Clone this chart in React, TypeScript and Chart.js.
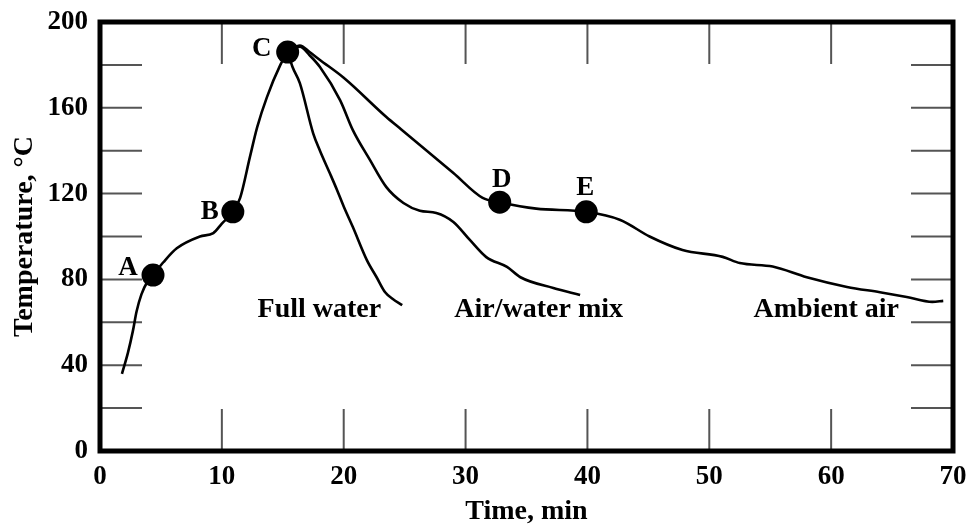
import React, { useEffect, useRef } from 'react';
import { Chart, registerables } from 'chart.js';

Chart.register(...registerables);

// Heating phase (start -> A -> B -> C)
const heatTime = [1.8, 2.3, 2.7, 3.0, 3.4, 3.9, 4.35, 5.2, 6.3, 8.2, 9.3, 10.0, 10.9, 11.5, 12.3, 12.9, 13.7, 14.8, 15.4];
const heatTemp = [36, 46, 56, 65, 73, 79, 82, 88, 94.5, 100, 101.6, 106, 111.5, 118, 137, 151, 165, 180, 186];

// Full water quench
const fullTime = [15.4, 15.8, 16.4, 17.5, 18.05, 18.9, 19.45, 20.0, 20.75, 21.9, 22.7, 23.4, 24.0, 24.8];
const fullTemp = [186, 179, 171.5, 148, 140, 129, 121.7, 114, 104.4, 89, 81, 74, 71, 68];

// Air/water mix
const mixTime = [15.4, 16.4, 17.2, 18.05, 19.7, 20.75, 22.15, 23.5, 24.9, 26.25, 27.6, 29.0, 30.35, 31.7, 33.4, 34.5, 37.2, 39.4];
const mixTemp = [186, 188.5, 184.5, 179, 163.6, 149.6, 135.7, 123, 115.6, 112, 111, 106.8, 98.4, 90.4, 85.8, 81, 76, 72.7];

// Ambient air
const ambTime = [15.4, 16.4, 17.2, 18.05, 20.0, 23.5, 24.7, 26.25, 29.0, 31.4, 32.8, 35.8, 39.9, 42.7, 45.1, 47.8, 51.1, 52.5, 55.2, 58.0, 61.3, 64.0, 66.2, 68.3, 69.2];
const ambTemp = [186, 189, 186, 182.3, 174, 155.7, 150, 142.7, 129.6, 118, 116, 113, 111.5, 107.7, 100, 93.7, 90.5, 87.6, 86, 81, 76.5, 74, 71.8, 69.5, 70];

// Marked points
const markerNames = ['A', 'B', 'C', 'D', 'E'];
const markerTime = [4.35, 10.9, 15.4, 32.8, 39.9];
const markerTemp = [82, 111.5, 186, 116, 111.5];

// Curve labels
const curveNames = ['Full water', 'Air/water mix', 'Ambient air'];
const curveLabelTime = [18.0, 36.0, 59.6];
const curveLabelTemp = [66, 66, 66];

// Axis ticks
const xMinorTicks = [10, 20, 30, 40, 50, 60];
const yMinorTicks = [20, 40, 60, 80, 100, 120, 140, 160, 180];

const FONT = "'Liberation Serif', 'Times New Roman', serif";

const toPts = (xs: number[], ys: number[]) => xs.map((x, i) => ({ x, y: ys[i] }));

const markerLabelOffsets = [
  [-25, -7],
  [-23, 0],
  [-26, -3],
  [2, -22],
  [-1, -24],
];

const decorPlugin = {
  id: 'decor',
  beforeDatasetsDraw(chart: any) {
    const { ctx, chartArea: a, scales } = chart;
    const xs = scales.x;
    const ys = scales.y;
    const L = 42;
    ctx.save();
    ctx.strokeStyle = '#555';
    ctx.lineWidth = 2;
    ctx.beginPath();
    xMinorTicks.forEach((v) => {
      const px = xs.getPixelForValue(v);
      ctx.moveTo(px, a.top);
      ctx.lineTo(px, a.top + L);
      ctx.moveTo(px, a.bottom);
      ctx.lineTo(px, a.bottom - L);
    });
    yMinorTicks.forEach((v) => {
      const py = ys.getPixelForValue(v);
      ctx.moveTo(a.left, py);
      ctx.lineTo(a.left + L, py);
      ctx.moveTo(a.right, py);
      ctx.lineTo(a.right - L, py);
    });
    ctx.stroke();
    ctx.restore();
  },
  afterDatasetsDraw(chart: any) {
    const { ctx, chartArea: a, scales } = chart;
    const xs = scales.x;
    const ys = scales.y;
    ctx.save();
    ctx.strokeStyle = '#000';
    ctx.lineWidth = 5;
    ctx.strokeRect(a.left, a.top, a.right - a.left, a.bottom - a.top);

    ctx.fillStyle = '#000';
    ctx.textAlign = 'center';
    ctx.textBaseline = 'middle';
    ctx.font = `bold 27px ${FONT}`;
    markerNames.forEach((n, i) => {
      const px = xs.getPixelForValue(markerTime[i]) + markerLabelOffsets[i][0];
      const py = ys.getPixelForValue(markerTemp[i]) + markerLabelOffsets[i][1];
      ctx.fillText(n, px, py);
    });
    ctx.font = `bold 28px ${FONT}`;
    curveNames.forEach((n, i) => {
      const px = xs.getPixelForValue(curveLabelTime[i]);
      const py = ys.getPixelForValue(curveLabelTemp[i]);
      ctx.fillText(n, px, py);
    });
    ctx.restore();
  },
};

const zeroPad = (s: any) => {
  s.paddingTop = 0;
  s.paddingBottom = 0;
  s.paddingLeft = 0;
  s.paddingRight = 0;
};

export default function App() {
  const ref = useRef<HTMLCanvasElement | null>(null);

  useEffect(() => {
    document.body.style.margin = '0';
    const canvas = ref.current;
    if (!canvas) return;
    const lineDs = (xs: number[], ys: number[]) => ({
      data: toPts(xs, ys),
      showLine: true,
      borderColor: '#000',
      borderWidth: 2.6,
      pointRadius: 0,
      tension: 0.3,
      cubicInterpolationMode: 'monotone' as const,
      fill: false,
    });
    const chart = new Chart(canvas, {
      type: 'scatter',
      data: {
        datasets: [
          lineDs(heatTime, heatTemp),
          lineDs(fullTime, fullTemp),
          lineDs(mixTime, mixTemp),
          lineDs(ambTime, ambTemp),
          {
            data: toPts(markerTime, markerTemp),
            showLine: false,
            pointRadius: 11.5,
            pointBackgroundColor: '#000',
            pointBorderColor: '#000',
            pointBorderWidth: 0,
          } as any,
        ],
      },
      options: {
        responsive: false,
        animation: false,
        devicePixelRatio: 1,
        layout: { padding: { left: 0, top: 22, right: 17, bottom: 0 } },
        plugins: {
          legend: { display: false },
          tooltip: { enabled: false },
        },
        scales: {
          x: {
            type: 'linear',
            min: 0,
            max: 70,
            ticks: {
              stepSize: 10,
              color: '#000',
              padding: 10,
              maxRotation: 0,
              font: { family: FONT, size: 27, weight: 'bold' },
            },
            grid: { display: false, drawTicks: false },
            border: { display: false },
            title: {
              display: true,
              text: 'Time, min',
              color: '#000',
              padding: { top: 0, bottom: 0 },
              font: { family: FONT, size: 28, weight: 'bold' },
            },
            afterFit: (s: any) => {
              s.height = 78;
              zeroPad(s);
            },
          },
          y: {
            type: 'linear',
            min: 0,
            max: 200,
            ticks: {
              stepSize: 20,
              color: '#000',
              padding: 12,
              font: { family: FONT, size: 27, weight: 'bold' },
              callback: (v: any) => (Number(v) % 40 === 0 ? String(v) : ''),
            },
            grid: { display: false, drawTicks: false },
            border: { display: false },
            title: {
              display: true,
              text: 'Temperature, °C',
              color: '#000',
              padding: { top: 8, bottom: 0 },
              font: { family: FONT, size: 28, weight: 'bold' },
            },
            afterFit: (s: any) => {
              s.width = 100;
              zeroPad(s);
            },
          },
        },
      },
      plugins: [decorPlugin],
    });
    return () => chart.destroy();
  }, []);

  return (
    <div style={{ width: 970, height: 529 }}>
      <canvas ref={ref} width={970} height={529} style={{ width: 970, height: 529, display: 'block' }} />
    </div>
  );
}
